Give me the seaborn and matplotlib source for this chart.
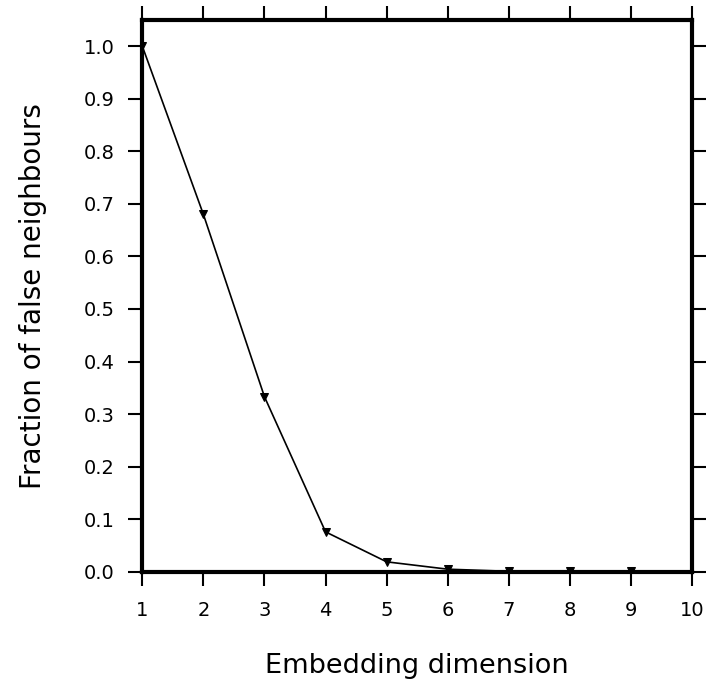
import seaborn as sns
import matplotlib.pyplot as plt
import pandas as pd

dimension = [1, 2, 3, 4, 5, 6, 7, 8, 9]
fraction = [1.0, 0.68, 0.333, 0.076, 0.019, 0.005, 0.001, 0.001, 0.001]

df = pd.DataFrame({'dim': dimension, 'fnn': fraction})

sns.set_style('ticks')
plt.rcParams['font.family'] = ['DejaVu Sans']

fig = plt.figure(figsize=(7.15, 6.84), dpi=100)
ax = fig.add_axes([0.199, 0.164, 0.769, 0.807])

sns.lineplot(x='dim', y='fnn', data=df, ax=ax, color='black', linewidth=1.2,
             marker='v', markersize=6, markeredgecolor='black')

ax.set_xlim(1, 10)
ax.set_ylim(0, 1.05)
ax.set_xticks(range(1, 11))
ax.set_yticks([i / 10 for i in range(11)])
ax.set_yticklabels([f'{i / 10:.1f}' for i in range(11)])

for side in ['top', 'bottom', 'left', 'right']:
    ax.spines[side].set_linewidth(3)
    ax.spines[side].set_color('black')

ax.tick_params(axis='both', direction='out', length=10, width=1.5, labelsize=14,
               colors='black', top=True, right=True, labeltop=False, labelright=False)
ax.tick_params(axis='x', pad=11)
ax.tick_params(axis='y', pad=10)

ax.set_xlabel('Embedding dimension', fontsize=19.5, labelpad=24, color='black')
ax.set_ylabel('Fraction of false neighbours', fontsize=20, labelpad=26, color='black')

plt.savefig('out.png', dpi=100)
plt.close()
